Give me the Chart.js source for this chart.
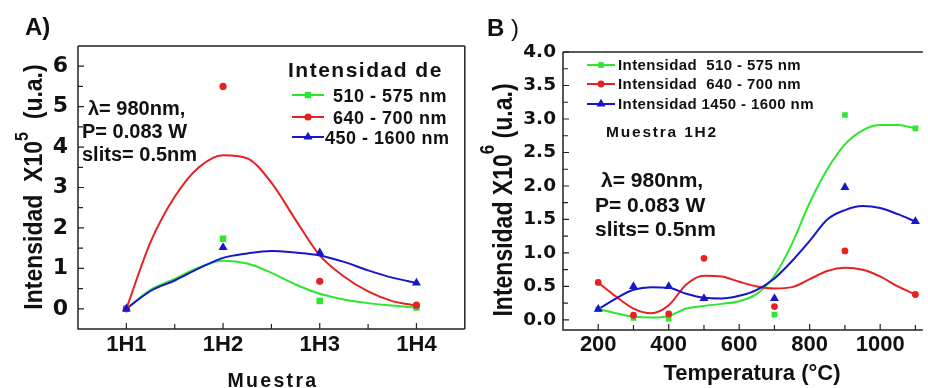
<!DOCTYPE html>
<html>
<head>
<meta charset="utf-8">
<script src="https://cdn.jsdelivr.net/npm/chart.js@4.4.1/dist/chart.umd.min.js"></script>
<style>
  html, body { margin: 0; padding: 0; background: #fff; }
  #wrap { position: relative; width: 928px; height: 388px; overflow: hidden; }
  canvas { position: absolute; top: 0; }
  #chartA { left: 0; }
  #chartB { left: 470px; }
</style>
</head>
<body>
<div id="wrap">
  <canvas id="chartA" width="470" height="388"></canvas>
  <canvas id="chartB" width="458" height="388"></canvas>
</div>
<script>
// ---- Panel A: intensity per sample ----
const samplesA = ['1H1', '1H2', '1H3', '1H4'];
const sampleIdxA = [0, 1, 2, 3];
const green510A = [0, 1.73, 0.19, 0.03];
const red640A = [0, 5.5, 0.68, 0.09];
const blue450A = [0, 1.52, 1.39, 0.64];

// smoothed fit curves for panel A
const fitXA = [0, 0.25, 0.5, 0.75, 1, 1.25, 1.5, 1.75, 2, 2.25, 2.5, 2.75, 3];
const fitGreenA = [0, 0.47, 0.74, 1.02, 1.19, 1.12, 0.89, 0.6, 0.37, 0.23, 0.14, 0.08, 0.03];
const fitRedA = [0, 1.65, 2.77, 3.5, 3.8, 3.72, 3.12, 2.2, 1.32, 0.8, 0.43, 0.19, 0.08];
const fitBlueA = [0, 0.44, 0.7, 1.0, 1.26, 1.37, 1.43, 1.39, 1.32, 1.16, 0.95, 0.77, 0.64];

const yTicksA = [0, 1, 2, 3, 4, 5, 6];
const yMinorA = [0.5, 1.5, 2.5, 3.5, 4.5, 5.5];
const xMinorA = [0.5, 1.5, 2.5];
const legendLabelsA = ['510 - 575 nm', '640 - 700 nm', '450 - 1600 nm'];

// ---- Panel B: intensity vs temperature, sample 1H2 ----
const tempsGreenB = [200, 300, 400, 700, 900, 1100];
const green510B = [0.16, 0.03, 0.02, 0.08, 3.06, 2.86];
const tempsB = [200, 300, 400, 500, 700, 900, 1100];
const red640B = [0.56, 0.07, 0.09, 0.92, 0.2, 1.03, 0.38];
const blue1450B = [0.16, 0.5, 0.5, 0.32, 0.32, 1.98, 1.47];

// smoothed fit curves for panel B
const fitXB = [200, 250, 300, 350, 400, 450, 500, 550, 600, 650, 700, 750, 800, 850, 900, 950, 1000, 1050, 1100];
const fitGreenB = [0.16, 0.10, 0.05, 0.035, 0.06, 0.17, 0.21, 0.24, 0.28, 0.39, 0.66, 1.14, 1.75, 2.25, 2.62, 2.83, 2.91, 2.91, 2.86];
const fitRedB = [0.56, 0.35, 0.17, 0.10, 0.22, 0.53, 0.66, 0.65, 0.57, 0.50, 0.47, 0.49, 0.61, 0.73, 0.78, 0.75, 0.65, 0.50, 0.38];
const fitBlueB = [0.16, 0.32, 0.45, 0.49, 0.48, 0.39, 0.33, 0.32, 0.36, 0.45, 0.62, 0.88, 1.18, 1.50, 1.64, 1.70, 1.67, 1.58, 1.47];

const xTicksB = [200, 400, 600, 800, 1000];
const xMinorB = [300, 500, 700, 900, 1100];
const yTicksB = [0, 0.5, 1, 1.5, 2, 2.5, 3, 3.5, 4];
const yMinorB = [0.25, 0.75, 1.25, 1.75, 2.25, 2.75, 3.25, 3.75];
const legendLabelsB = ['Intensidad  510 - 575 nm', 'Intensidad  640 - 700 nm', 'Intensidad 1450 - 1600 nm'];

const GREEN = '#2ee62e';
const RED = '#e82020';
const BLUE = '#1616cc';
const INK = '#111';
const SANS = '"Liberation Sans", Arial, sans-serif';

const pts = (xs, ys) => xs.map((x, i) => ({ x, y: ys[i] }));

const fitLine = (data, color) => ({
  data, showLine: true, borderColor: color, borderWidth: 2,
  pointRadius: 0, cubicInterpolationMode: 'monotone', fill: false
});

const marks = (data, color, style, r) => ({
  data, showLine: false, pointStyle: style, pointRadius: r, pointHoverRadius: r,
  backgroundColor: color, borderColor: color, borderWidth: 0
});

function drawMarker(ctx, style, x, y, r, color) {
  ctx.fillStyle = color;
  ctx.beginPath();
  if (style === 'rect') {
    const s = r * Math.SQRT1_2;
    ctx.rect(x - s, y - s, 2 * s, 2 * s);
  } else if (style === 'triangle') {
    ctx.moveTo(x, y - r);
    ctx.lineTo(x + r * 0.866, y + r / 2);
    ctx.lineTo(x - r * 0.866, y + r / 2);
    ctx.closePath();
  } else {
    ctx.arc(x, y, r, 0, Math.PI * 2);
  }
  ctx.fill();
}

// frame, inward ticks, legend and free text
const decor = {
  id: 'decor',
  afterDraw(chart, args, opts) {
    const { ctx, chartArea: a, scales: { x, y } } = chart;
    ctx.save();
    ctx.strokeStyle = '#222';
    ctx.lineWidth = 1.5;
    ctx.beginPath();
    ctx.moveTo(a.left, a.top); ctx.lineTo(a.left, a.bottom); ctx.lineTo(a.right, a.bottom);
    ctx.moveTo(a.left, a.top); ctx.lineTo(a.right, a.top);
    if (opts.rightEdge) { ctx.moveTo(a.right, a.top); ctx.lineTo(a.right, a.bottom); }
    ctx.stroke();

    ctx.lineWidth = 1.2;
    ctx.beginPath();
    const xt = (vals, len) => vals.forEach(v => {
      const px = x.getPixelForValue(v);
      ctx.moveTo(px, a.bottom); ctx.lineTo(px, a.bottom - len);
    });
    const yt = (vals, len) => vals.forEach(v => {
      const py = y.getPixelForValue(v);
      ctx.moveTo(a.left, py); ctx.lineTo(a.left + len, py);
    });
    xt(opts.xMajor, 6); xt(opts.xMinor, 5);
    yt(opts.yMajor, 6); yt(opts.yMinor, 5);
    ctx.stroke();

    ctx.fillStyle = INK;
    ctx.textBaseline = 'alphabetic';
    (opts.texts || []).forEach(t => {
      ctx.font = t.font;
      ctx.letterSpacing = t.ls || '0px';
      ctx.textAlign = t.align || 'left';
      ctx.fillStyle = INK;
      ctx.fillText(t.text, t.x, t.y);
    });

    const lg = opts.legend;
    if (lg) {
      lg.rows.forEach(row => {
        ctx.strokeStyle = row.color;
        ctx.lineWidth = 2;
        ctx.beginPath();
        ctx.moveTo(lg.x0, row.y); ctx.lineTo(lg.x1, row.y);
        ctx.stroke();
        drawMarker(ctx, row.style, (lg.x0 + lg.x1) / 2, row.y, row.r, row.color);
        ctx.font = lg.font;
        ctx.letterSpacing = lg.ls;
        ctx.textAlign = 'left';
        ctx.fillStyle = INK;
        ctx.fillText(row.label, row.tx, row.y + lg.base);
      });
    }

    // rotated y-axis title with superscript exponent
    const yt2 = opts.yTitle;
    if (yt2) {
      ctx.save();
      ctx.translate(yt2.x, yt2.y);
      ctx.rotate(-Math.PI / 2);
      ctx.scale(1, yt2.stretch);
      ctx.textAlign = 'left';
      ctx.letterSpacing = '0px';
      ctx.fillStyle = INK;
      const widths = yt2.parts.map((p, i) => {
        ctx.font = i === 1 ? yt2.supFont : yt2.font;
        return ctx.measureText(p).width;
      });
      let cx = -widths.reduce((s, w) => s + w, 0) / 2;
      yt2.parts.forEach((p, i) => {
        ctx.font = i === 1 ? yt2.supFont : yt2.font;
        ctx.fillText(p, cx, i === 1 ? -yt2.raise : 0);
        cx += widths[i];
      });
      ctx.restore();
    }
    ctx.restore();
  }
};

const tickFont = (family, size) => ({ family, size, weight: 'bold' });

// ---------------- Chart A ----------------
new Chart(document.getElementById('chartA'), {
  type: 'scatter',
  data: {
    datasets: [
      marks(pts(sampleIdxA, blue450A), BLUE, 'triangle', 5.2),
      marks(pts(sampleIdxA, red640A), RED, 'circle', 3.6),
      marks(pts(sampleIdxA, green510A), GREEN, 'rect', 4.6),
      fitLine(pts(fitXA, fitBlueA), BLUE),
      fitLine(pts(fitXA, fitRedA), RED),
      fitLine(pts(fitXA, fitGreenA), GREEN)
    ]
  },
  options: {
    responsive: false,
    animation: false,
    events: [],
    layout: { padding: { top: 46, right: 2, left: 0, bottom: 0 } },
    scales: {
      x: {
        type: 'linear', min: -0.5, max: 3.5,
        afterBuildTicks: s => { s.ticks = sampleIdxA.map(value => ({ value })); },
        afterFit: s => { s.height = 59; },
        ticks: {
          callback: v => samplesA[v], font: tickFont(SANS, 22), color: INK,
          padding: 3, maxRotation: 0, autoSkip: false
        },
        grid: { display: false, drawTicks: false },
        border: { display: false }
      },
      y: {
        min: -0.5, max: 6.5,
        afterBuildTicks: s => { s.ticks = yTicksA.map(value => ({ value })); },
        afterFit: s => { s.width = 78; },
        ticks: { callback: v => String(v), font: tickFont('"DejaVu Sans"', 22), color: INK, padding: 10 },
        grid: { display: false, drawTicks: false },
        border: { display: false }
      }
    },
    plugins: {
      legend: { display: false },
      tooltip: { enabled: false },
      decor: {
        rightEdge: true,
        xMajor: sampleIdxA, xMinor: xMinorA, yMajor: yTicksA, yMinor: yMinorA,
        texts: [
          { text: 'A)', x: 25, y: 35, font: `bold 24px ${SANS}` },
          { text: 'λ= 980nm,', x: 88, y: 115, font: `bold 20px ${SANS}` },
          { text: 'P= 0.083 W', x: 82, y: 138, font: `bold 20px ${SANS}` },
          { text: 'slits= 0.5nm', x: 82, y: 161, font: `bold 20px ${SANS}` },
          { text: 'Intensidad de', x: 288, y: 77, font: `bold 21px ${SANS}`, ls: '1.5px' },
          { text: 'Muestra', x: 273, y: 387, font: `bold 19.5px ${SANS}`, ls: '2.3px', align: 'center' }
        ],
        legend: {
          x0: 292, x1: 324, font: `bold 18px ${SANS}`, ls: '0.5px', base: 6.5,
          rows: [
            { label: legendLabelsA[0], color: GREEN, style: 'rect', r: 4.6, y: 95, tx: 333 },
            { label: legendLabelsA[1], color: RED, style: 'circle', r: 3.6, y: 117, tx: 333 },
            { label: legendLabelsA[2], color: BLUE, style: 'triangle', r: 5.2, y: 137, tx: 325 }
          ]
        },
        yTitle: {
          parts: ['Intensidad  X10', '5', '  (u.a.)'], x: 42, y: 187, stretch: 1.1,
          font: `bold 23px ${SANS}`, supFont: `bold 16px ${SANS}`, raise: 13
        }
      }
    }
  },
  plugins: [decor]
});

// ---------------- Chart B ----------------
new Chart(document.getElementById('chartB'), {
  type: 'scatter',
  data: {
    datasets: [
      marks(pts(tempsB, blue1450B), BLUE, 'triangle', 5.2),
      marks(pts(tempsB, red640B), RED, 'circle', 3.4),
      marks(pts(tempsGreenB, green510B), GREEN, 'rect', 4),
      fitLine(pts(fitXB, fitBlueB), BLUE),
      fitLine(pts(fitXB, fitRedB), RED),
      fitLine(pts(fitXB, fitGreenB), GREEN)
    ]
  },
  options: {
    responsive: false,
    animation: false,
    events: [],
    layout: { padding: { top: 52, right: 0, left: 0, bottom: 0 } },
    scales: {
      x: {
        type: 'linear', min: 100, max: 1121,
        afterBuildTicks: s => { s.ticks = xTicksB.map(value => ({ value })); },
        afterFit: s => { s.height = 58; },
        ticks: {
          callback: v => String(v), font: tickFont(SANS, 22), color: INK,
          padding: 2, maxRotation: 0, autoSkip: false
        },
        grid: { display: false, drawTicks: false },
        border: { display: false }
      },
      y: {
        min: -0.15, max: 4,
        afterBuildTicks: s => { s.ticks = yTicksB.map(value => ({ value })); },
        afterFit: s => { s.width = 93; },
        ticks: { callback: v => v.toFixed(1), font: tickFont('"DejaVu Sans"', 18.5), color: INK, padding: 7 },
        grid: { display: false, drawTicks: false },
        border: { display: false }
      }
    },
    plugins: {
      legend: { display: false },
      tooltip: { enabled: false },
      decor: {
        rightEdge: false,
        xMajor: xTicksB, xMinor: xMinorB, yMajor: yTicksB, yMinor: yMinorB,
        texts: [
          { text: 'B', x: 17, y: 36, font: `bold 24px ${SANS}` },
          { text: ')', x: 41, y: 36, font: `24px ${SANS}` },
          { text: 'Muestra 1H2', x: 136, y: 137, font: `bold 15.5px ${SANS}`, ls: '1.8px' },
          { text: 'λ= 980nm,', x: 131, y: 187, font: `bold 21px ${SANS}` },
          { text: 'P= 0.083 W', x: 125, y: 212, font: `bold 21px ${SANS}` },
          { text: 'slits= 0.5nm', x: 125, y: 236, font: `bold 21px ${SANS}` },
          { text: 'Temperatura (°C)', x: 282, y: 380, font: `bold 22px ${SANS}`, align: 'center' }
        ],
        legend: {
          x0: 117, x1: 145, font: `bold 15px ${SANS}`, ls: '0.4px', base: 5.3,
          rows: [
            { label: legendLabelsB[0], color: GREEN, style: 'rect', r: 4, y: 65, tx: 148 },
            { label: legendLabelsB[1], color: RED, style: 'circle', r: 3.4, y: 84, tx: 148 },
            { label: legendLabelsB[2], color: BLUE, style: 'triangle', r: 5.2, y: 104, tx: 148 }
          ]
        },
        yTitle: {
          parts: ['Intensidad X10', '6', ' (u.a.)'], x: 42, y: 200, stretch: 1.2,
          font: `bold 23px ${SANS}`, supFont: `bold 17px ${SANS}`, raise: 15
        }
      }
    }
  },
  plugins: [decor]
});
</script>
</body>
</html>
